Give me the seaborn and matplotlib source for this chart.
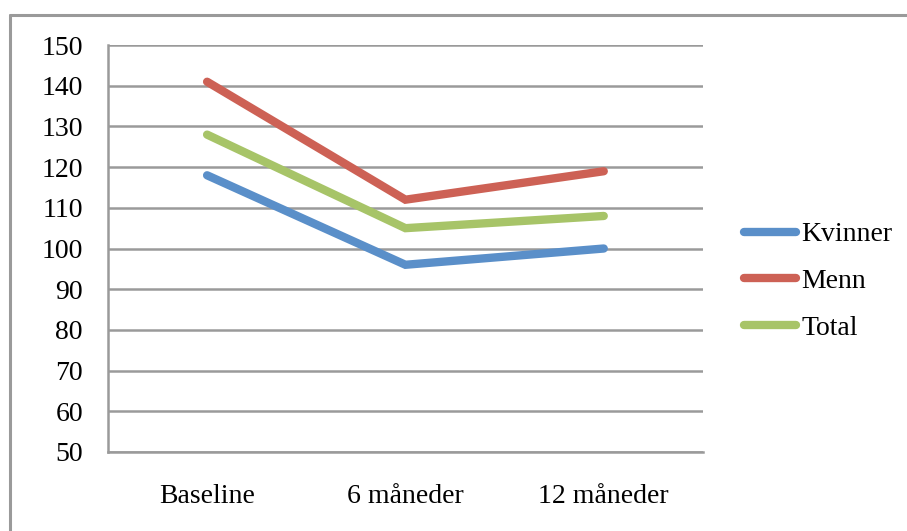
import matplotlib
matplotlib.use("Agg")
import matplotlib.pyplot as plt
import seaborn as sns
import pandas as pd
from matplotlib.lines import Line2D

# Values per time point
periods = ["Baseline", "6 måneder", "12 måneder"]
kvinner = [118, 96, 100]
menn = [141, 112, 119]
total = [128, 105, 108]
series_names = ["Kvinner", "Menn", "Total"]
colors = ["#5A8FC9", "#CD6155", "#A7C468"]
y_ticks = [50, 60, 70, 80, 90, 100, 110, 120, 130, 140, 150]

df = pd.DataFrame({
    "periode": periods * 3,
    "pos": list(range(len(periods))) * 3,
    "verdi": kvinner + menn + total,
    "gruppe": [series_names[0]] * 3 + [series_names[1]] * 3 + [series_names[2]] * 3,
})

sns.set_style("white")
plt.rcParams["font.family"] = ["Liberation Serif", "DejaVu Serif"]
plt.rcParams["text.color"] = "black"
plt.rcParams["xtick.color"] = "black"
plt.rcParams["ytick.color"] = "black"

fig = plt.figure(figsize=(9.07, 5.31), dpi=100)
ax = fig.add_axes([0.119, 0.149, 0.656, 0.766])

grid_c = "#9A9A9A"
lw_series = 6.0
fs = 20

for yv in y_ticks:
    ax.axhline(yv, color=grid_c, lw=1.8, zorder=0)

sns.lineplot(data=df, x="pos", y="verdi", hue="gruppe", palette=colors,
             hue_order=series_names, lw=lw_series, ax=ax, legend=False,
             solid_capstyle="round", solid_joinstyle="miter", zorder=3)

ax.set_xlim(-0.5, len(periods) - 0.5)
ax.set_ylim(50, 150)
ax.set_yticks(y_ticks)
ax.set_yticklabels([str(v) for v in y_ticks], fontsize=fs)
ax.set_xticks([i - 0.5 for i in range(len(periods) + 1)])
ax.set_xticklabels([])
ax.set_xticks(range(len(periods)), minor=True)
ax.set_xticklabels(periods, minor=True, fontsize=fs)
ax.tick_params(axis="x", which="minor", length=0, pad=23)
ax.tick_params(axis="x", which="major", length=6, width=1.8, color=grid_c, direction="out")
ax.tick_params(axis="y", length=6, width=1.8, color=grid_c, direction="out", pad=12)
ax.set_xlabel("")
ax.set_ylabel("")

for side in ["top", "right"]:
    ax.spines[side].set_visible(False)
for side in ["left", "bottom"]:
    ax.spines[side].set_color(grid_c)
    ax.spines[side].set_linewidth(1.8)

handles = [Line2D([0], [0], color=c, lw=lw_series, solid_capstyle="round") for c in colors]
fig.legend(handles, series_names, loc="center left", bbox_to_anchor=(0.8206, 0.47),
           frameon=False, fontsize=fs, handlelength=1.85, handletextpad=0.2,
           labelspacing=0.77, borderpad=0, borderaxespad=0)

# Outer chart frame (top and left edges)
fig.add_artist(Line2D([0.0115, 1.0], [1 - 14.5 / 531] * 2, color=grid_c, lw=2.2,
                      transform=fig.transFigure))
fig.add_artist(Line2D([0.0115, 0.0115], [0.0, 1 - 14.5 / 531], color=grid_c, lw=2.2,
                      transform=fig.transFigure))

fig.savefig("out.png", dpi=100)
